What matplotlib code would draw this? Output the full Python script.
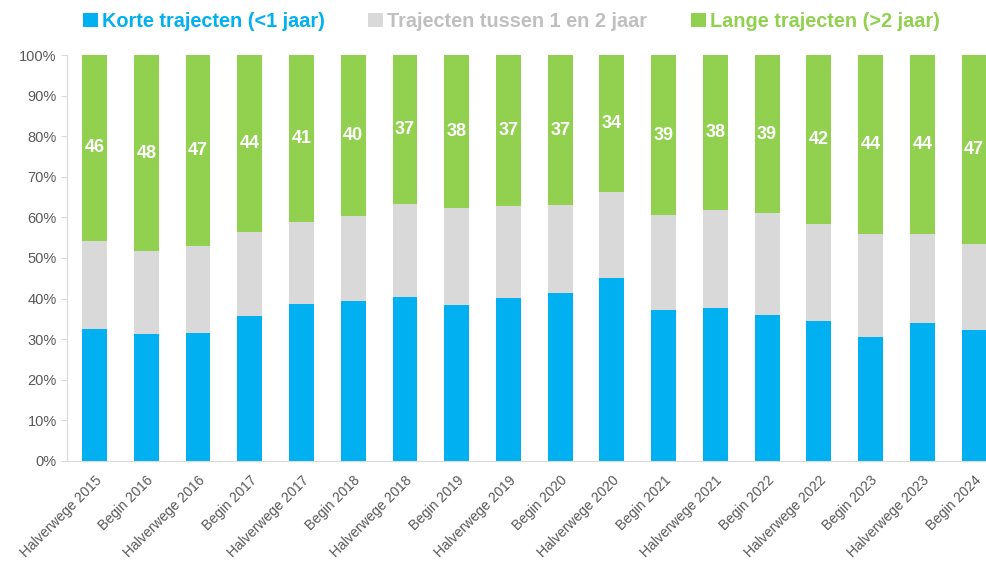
"""Stacked bar chart of trajectory lengths (share of total)."""
import matplotlib
matplotlib.use("Agg")
import matplotlib.pyplot as plt
import numpy as np

periods = [
    "Halverwege 2015", "Begin 2016", "Halverwege 2016", "Begin 2017",
    "Halverwege 2017", "Begin 2018", "Halverwege 2018", "Begin 2019",
    "Halverwege 2019", "Begin 2020", "Halverwege 2020", "Begin 2021",
    "Halverwege 2021", "Begin 2022", "Halverwege 2022", "Begin 2023",
    "Halverwege 2023", "Begin 2024",
]
short = [32.5, 31.3, 31.5, 35.7, 38.7, 39.4, 40.4, 38.4, 40.1,
         41.4, 45.1, 37.2, 37.7, 36.0, 34.5, 30.5, 34.0, 32.3]
long_ = [45.8, 48.3, 47.0, 43.6, 41.1, 39.6, 36.6, 37.6, 37.2,
         37.0, 33.8, 39.4, 38.2, 39.0, 41.7, 44.2, 44.2, 46.6]
mid = [100 - s - g for s, g in zip(short, long_)]

series_names = [
    "Korte trajecten (<1 jaar)",
    "Trajecten tussen 1 en 2 jaar",
    "Lange trajecten (>2 jaar)",
]
colors = ["#00B0F0", "#D9D9D9", "#92D050"]
text_colors = ["#00B0F0", "#BFBFBF", "#92D050"]

plt.rcParams["font.family"] = ["Liberation Sans", "DejaVu Sans"]

fig = plt.figure(figsize=(9.87, 5.62), dpi=100)
ax = fig.add_axes([0.068, 0.18, 0.932, 0.722])

x = np.arange(len(periods))
width = 0.48
bottom = np.zeros(len(periods))
for vals, color, name in zip([short, mid, long_], colors, series_names):
    ax.bar(x, vals, width, bottom=bottom, color=color, label=name)
    bottom += np.array(vals)

# value labels on the green segments
for xi, s, m, g in zip(x, short, mid, long_):
    ax.text(xi, s + m + g / 2, f"{g:.0f}", ha="center", va="center",
            color="white", fontsize=13, fontweight="bold")

ax.set_xlim(-0.53, len(periods) - 0.75)
ax.set_ylim(0, 100)
ax.set_yticks(np.arange(0, 101, 10))
ax.set_yticklabels([f"{v}%" for v in range(0, 101, 10)])
ax.set_xticks(x)
ax.set_xticklabels(periods, rotation=45, ha="right", rotation_mode="anchor")

for side in ["top", "right"]:
    ax.spines[side].set_visible(False)
for side in ["left", "bottom"]:
    ax.spines[side].set_color("#D9D9D9")
ax.tick_params(axis="y", colors="#D9D9D9", labelcolor="#595959",
               labelsize=10.5, length=4)
ax.tick_params(axis="x", length=0, labelcolor="#595959", labelsize=10,
               pad=9)

leg = ax.legend(
    loc="center", bbox_to_anchor=(0.518, 0.962),
    bbox_transform=fig.transFigure,
    ncol=3, frameon=False, handlelength=0.75, handleheight=0.75,
    handletextpad=0.2, columnspacing=2.2,
    prop={"size": 14.3, "weight": "bold"},
)
for txt, c in zip(leg.get_texts(), text_colors):
    txt.set_color(c)

fig.savefig("out.png", dpi=100)
